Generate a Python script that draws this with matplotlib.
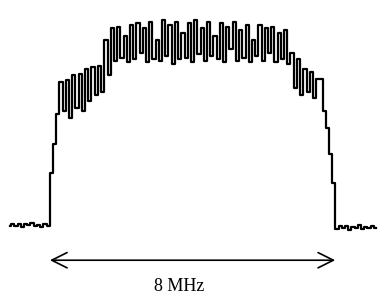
import matplotlib
matplotlib.use("Agg")
import matplotlib.pyplot as plt
import numpy as np

# spectrum trace, level in dB, sampled every 0.09 MHz starting at -5.13 MHz
f_start = -5.13
f_step = 0.09

floor_left = [-60.2, -59.6, -60.4, -59.8, -60.5, -59.7, -60.1, -59.5, -60.3,
              -59.9, -60.6, -59.8, -60.2]
rise_left = [-44, -35, -26]
shoulder_left = [-16, -25, -15.5, -27, -14, -24, -13.5, -25, -12, -22, -11.5,
                 -20, -11, -19, -3, -14]
top = [0.5, -9.5, 1.0, -8.5, -2, -10, 1.5, -9, 2.0, -7, 0.5, -10, 2.5, -9,
       -3, -9.5, 3.0, -8, 1.5, -10.5, 2.5, -9, -1, -8.5, 2.0, -10, 3.0, -7.5,
       0.5, -9.5, 2.5, -8, -2, -9, 2.0, -10, 1.0, -6, 2.5, -9.5, 0, -8.5,
       1.5, -10, -3, -8, 1.5, -9.5, 0.5, -7, 1, -10, -1, -9, 0, -10.5]
shoulder_right = [-7, -18, -9, -20, -12, -19, -13, -21, -15, -15, -25]
fall_right = [-30, -38, -47]
floor_right = [-61.2, -60.4, -61.0, -60.2, -61.4, -60.6, -60.9, -60.1, -61.3,
               -60.5, -61.0, -60.3, -60.8]

span_lo, span_hi = -4.0, 4.0
span_label = "8 MHz"

level = np.array(floor_left + rise_left + shoulder_left + top + shoulder_right
                 + fall_right + floor_right)
freq = f_start + f_step * np.arange(len(level))

fig = plt.figure(figsize=(3.78, 2.96), dpi=100)
ax = fig.add_axes([0, 0, 1, 1])
ax.plot(freq, level, drawstyle="steps-mid", color="black", lw=1.6)

ax.annotate("", xy=(span_lo, -70.8), xytext=(span_hi, -70.8),
            arrowprops=dict(arrowstyle="<->, head_length=1.1, head_width=0.55",
                            color="black", lw=1.2, shrinkA=0, shrinkB=0))
ax.text(-0.38, -76.4, span_label, ha="center", va="top", fontsize=13,
        family="Liberation Serif")

ax.set_xlim(-5.4, 5.2)
ax.set_ylim(-81.8, 9.2)
ax.axis("off")
fig.savefig("out.png", dpi=100)
